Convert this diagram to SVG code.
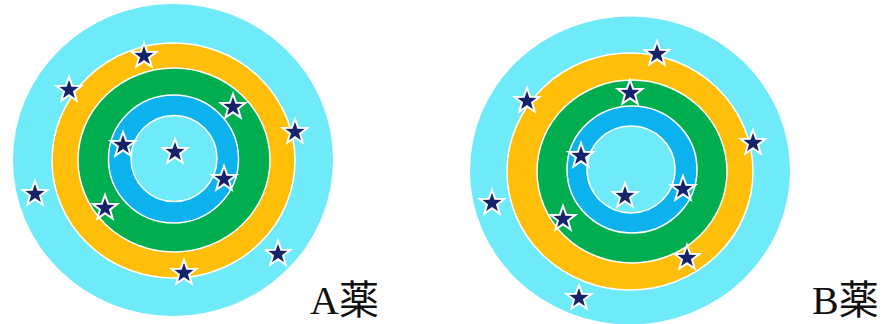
<svg xmlns="http://www.w3.org/2000/svg" xmlns:xlink="http://www.w3.org/1999/xlink" width="890" height="324" viewBox="0 0 890 324">
<style>
.outer{fill:#6EEAF8}
.ring4{fill:#FFBE0A;stroke:#fff;stroke-width:1.5}
.ring3{fill:#00AE50;stroke:#fff;stroke-width:1.5}
.ring2{fill:#0BB2EE;stroke:#fff;stroke-width:1.5}
.ring1{fill:#6EEAF8;stroke:#fff;stroke-width:1.5}
.star{fill:#16226A;stroke:#fff;stroke-width:2;stroke-linejoin:miter}
.label{font-family:"Liberation Serif","Noto Sans CJK JP",serif;font-size:40px;fill:#111}
</style>
<defs>
<polygon id="st" class="star" points="0,-13 3.13,-4.3 12.36,-4.02 5.06,1.64 7.64,10.52 0,5.32 -7.64,10.52 -5.06,1.64 -12.36,-4.02 -3.13,-4.3"/>
</defs>
<rect width="890" height="324" fill="#fff"/>
<g id="targetA">
<ellipse class="outer" cx="173" cy="160" rx="160" ry="156"/>
<ellipse class="ring4" cx="173.5" cy="160.5" rx="121.5" ry="117.5"/>
<ellipse class="ring3" cx="174" cy="160" rx="96" ry="92"/>
<ellipse class="ring2" cx="173.5" cy="159" rx="65" ry="64"/>
<ellipse class="ring1" cx="174" cy="158.5" rx="43" ry="43"/>
</g>
<g id="starsA">
<use xlink:href="#st" x="144" y="56"/>
<use xlink:href="#st" x="69" y="90"/>
<use xlink:href="#st" x="233" y="107"/>
<use xlink:href="#st" x="295" y="132"/>
<use xlink:href="#st" x="123" y="145"/>
<use xlink:href="#st" x="175" y="152"/>
<use xlink:href="#st" x="224" y="179"/>
<use xlink:href="#st" x="35" y="194"/>
<use xlink:href="#st" x="105" y="208"/>
<use xlink:href="#st" x="278" y="254"/>
<use xlink:href="#st" x="184" y="273"/>
</g>
<g id="targetB">
<ellipse class="outer" cx="630" cy="170.5" rx="160" ry="154"/>
<ellipse class="ring4" cx="630" cy="171.5" rx="123" ry="118.5"/>
<ellipse class="ring3" cx="632" cy="171.5" rx="95" ry="91.5"/>
<ellipse class="ring2" cx="632" cy="169.5" rx="65" ry="63.5"/>
<ellipse class="ring1" cx="631" cy="169.5" rx="44" ry="43.5"/>
</g>
<g id="starsB">
<use xlink:href="#st" x="657" y="54"/>
<use xlink:href="#st" x="527" y="101"/>
<use xlink:href="#st" x="630" y="93"/>
<use xlink:href="#st" x="753" y="143"/>
<use xlink:href="#st" x="581" y="156"/>
<use xlink:href="#st" x="625" y="196"/>
<use xlink:href="#st" x="683" y="189"/>
<use xlink:href="#st" x="492" y="203"/>
<use xlink:href="#st" x="563" y="219"/>
<use xlink:href="#st" x="687" y="258"/>
<use xlink:href="#st" x="579" y="298"/>
</g>
<g id="labelA"><text class="label" x="310" y="314">A薬</text></g>
<g id="labelB"><text class="label" x="812" y="314">B薬</text></g>
</svg>
